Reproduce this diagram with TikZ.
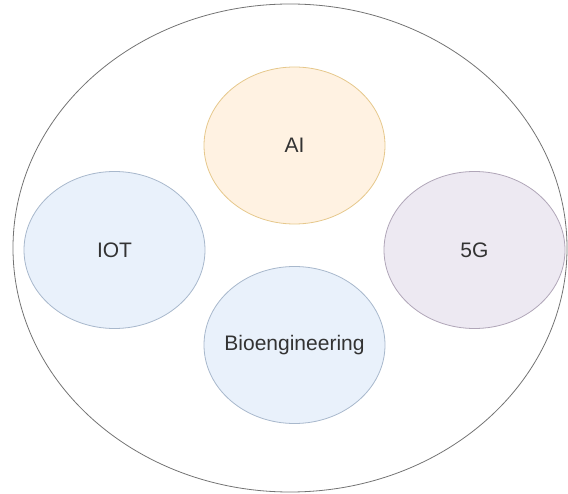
\documentclass[tikz,border=0pt]{standalone}
\usepackage{fontspec}
\setmainfont{Liberation Sans}
\usetikzlibrary{shapes.geometric,positioning}

\definecolor{aifill}{RGB}{255,242,226}
\definecolor{aiedge}{RGB}{230,200,140}
\definecolor{bluefill}{RGB}{233,241,251}
\definecolor{blueedge}{RGB}{168,184,204}
\definecolor{violetfill}{RGB}{237,233,242}
\definecolor{violetedge}{RGB}{176,166,184}

\begin{document}
\begin{tikzpicture}[x=1pt, y=-1pt,
		outer/.style={ellipse, draw=black!55, line width=0.8pt, minimum width=554pt, minimum height=488pt, inner sep=0pt},
		bubble/.style={ellipse, line width=0.8pt, minimum width=181pt, minimum height=157pt, inner xsep=-30pt, inner ysep=0pt, text=black!80, font=\fontsize{21}{25}\selectfont}
	]
	\useasboundingbox (0,0) rectangle (568,494);
	\node[outer] (field) at (290,248) {};
	\node[bubble, fill=aifill, draw=aiedge] (ai) at (294.5,145.5) {AI};
	\node[bubble, fill=bluefill, draw=blueedge] (iot) at (114.5,250) {IOT};
	\node[bubble, fill=violetfill, draw=violetedge] (fiveg) at (474.5,250) {5G};
	\node[bubble, fill=bluefill, draw=blueedge] (bio) at (294.5,345) {Bioengineering};
\end{tikzpicture}
\end{document}
